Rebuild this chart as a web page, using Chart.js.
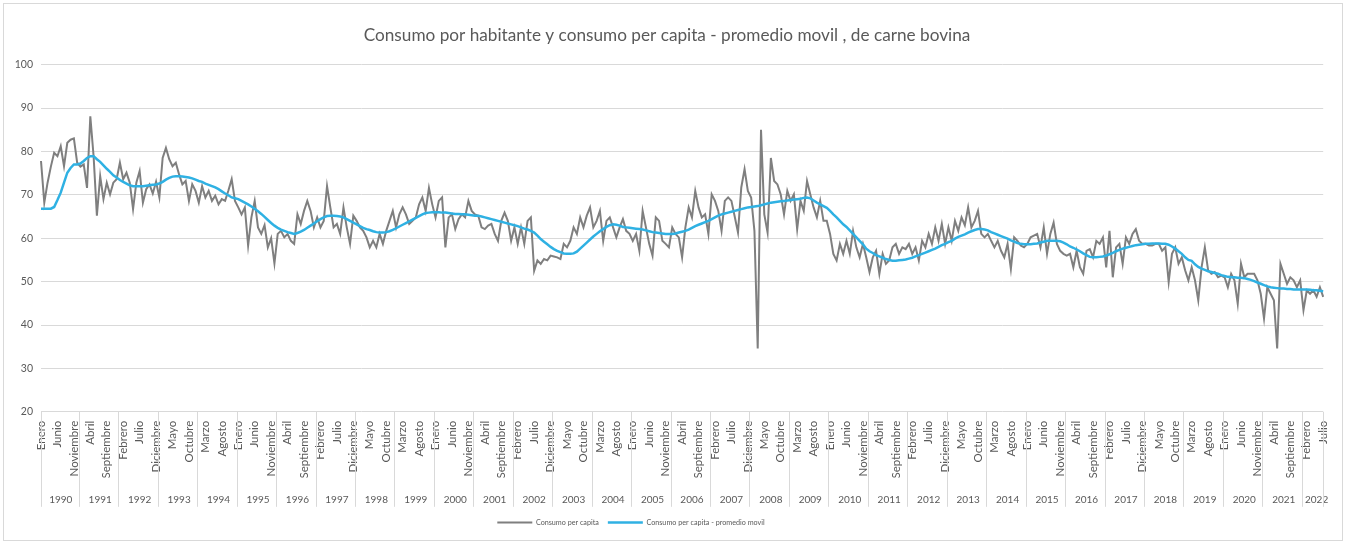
<!DOCTYPE html>
<html lang="es">
<head>
<meta charset="utf-8">
<title>Consumo de carne bovina</title>
<script src="https://cdn.jsdelivr.net/npm/chart.js@4.4.1/dist/chart.umd.min.js"></script>
<style>
  html, body { margin: 0; padding: 0; background: #fff; }
  #wrap { position: relative; width: 1346px; height: 543px; }
  #frame { position: absolute; left: 3px; top: 3px; width: 1338px; height: 536px; border: 1px solid #d9d9d9; pointer-events: none; }
</style>
</head>
<body>
<div id="wrap">
  <canvas id="chart" width="1346" height="543"></canvas>
  <div id="frame"></div>
</div>
<script>
const meses = ['Enero', 'Febrero', 'Marzo', 'Abril', 'Mayo', 'Junio', 'Julio', 'Agosto', 'Septiembre', 'Octubre', 'Noviembre', 'Diciembre'];
const anios = [1990, 1991, 1992, 1993, 1994, 1995, 1996, 1997, 1998, 1999, 2000, 2001, 2002, 2003, 2004, 2005,
               2006, 2007, 2008, 2009, 2010, 2011, 2012, 2013, 2014, 2015, 2016, 2017, 2018, 2019, 2020, 2021, 2022];
const mesesUltimoAnio = 7; // 2022: enero a julio

// Consumo per capita (kg/hab/año), mensual
const consumo = [
  77.8, 68.2, 72.8, 76.5, 79.7, 78.9, 81.2, 76.6, 82, 82.7, 83, 77.4,      // 1990
  76.5, 77, 71.6, 88.1, 78.9, 65.2, 74.3, 69, 72.8, 70.1, 72.8, 73.6,      // 1991
  77.4, 73.6, 75.1, 72.8, 66.7, 72.8, 75.5, 68.2, 71.3, 72.4, 70.3, 73,    // 1992
  69.4, 78.5, 80.8, 78.2, 76.6, 77.4, 74.7, 72.4, 73.2, 68.6, 72.4, 70.9,  // 1993
  68.2, 72, 69.4, 70.9, 68.6, 69.8, 67.8, 69, 68.6, 71, 73.6, 68.6,        // 1994
  67.1, 65.5, 67.1, 58.3, 64.8, 68.6, 62.5, 61, 63, 57.9, 60, 54.2,        // 1995
  61, 61.7, 60.2, 61, 59.4, 58.7, 65.5, 63.3, 66.3, 68.6, 66.3, 62.5,      // 1996
  64.8, 62.5, 64, 72, 67.1, 62.5, 63.3, 61, 67.1, 62.5, 58.7, 65.2,        // 1997
  64, 62.5, 61.7, 60.2, 57.9, 59.4, 57.9, 61, 58.7, 61.7, 64, 66.3,        // 1998
  62.5, 65.5, 67.1, 65.5, 63.3, 64, 64.8, 67.8, 69.4, 66.3, 71.6, 67.8,    // 1999
  64.8, 68.6, 69.4, 57.9, 64.8, 65.5, 62.1, 64.4, 65.5, 64.8, 68.6, 66.3,  // 2000
  65.5, 65.2, 62.5, 62.1, 62.9, 63.3, 61, 59.4, 64, 65.9, 64, 59.4,        // 2001
  62.5, 58.7, 62.5, 58.7, 64, 64.8, 52.5, 54.9, 54.1, 55.2, 54.9, 56,      // 2002
  55.8, 55.6, 55.2, 58.7, 57.9, 59.4, 62.5, 61, 64.8, 62.5, 65.2, 67.1,    // 2003
  62.5, 64, 66.3, 59.4, 64, 64.8, 62.5, 60.2, 62.5, 64.4, 61.7, 61,        // 2004
  59.4, 61, 57.1, 66.3, 62.5, 58.7, 56, 64.8, 64, 59.4, 58.7, 57.9,        // 2005
  62.5, 61, 60.2, 55.6, 62.5, 67.1, 64.8, 70.9, 67.1, 64.8, 65.5, 61,      // 2006
  70.1, 68.6, 66.3, 61.7, 68.6, 69.4, 68.6, 65, 61.3, 71.7, 75.9, 70.9,    // 2007
  69.4, 61.7, 34.6, 85, 65.5, 61.3, 78.5, 73.2, 72.4, 70.1, 65.5, 70.9,    // 2008
  68.6, 70.1, 62.1, 68.6, 66.3, 73.2, 70.1, 67.1, 64.8, 68.6, 64, 64,      // 2009
  61, 56.4, 54.9, 58.7, 56.4, 59.4, 56.4, 61.7, 57.9, 55.6, 58.7, 55.6,    // 2010
  52.2, 55.6, 57.1, 51.8, 56.4, 54.1, 54.9, 57.9, 58.7, 56.4, 57.9, 57.5,  // 2011
  58.7, 56.4, 57.9, 54.9, 59.4, 57.9, 61, 58.7, 62.5, 59.4, 63.3, 58.7,    // 2012
  62.5, 59.4, 64, 61.7, 64.8, 63, 67.1, 62.5, 64, 66.3, 61, 60.2,          // 2013
  61, 59.4, 57.9, 59.4, 57.1, 55.6, 58.7, 52.9, 60.2, 59.4, 58.3, 57.9,    // 2014
  58.7, 60.2, 60.6, 61, 57.9, 62.5, 56.4, 61, 63.6, 58.7, 57.1, 56.4,      // 2015
  56, 56.4, 53.3, 57.1, 53.3, 51.8, 57.1, 57.5, 55.6, 59.4, 58.7, 60.2,    // 2016
  53.3, 61.7, 51, 57.9, 58.7, 54.1, 60.2, 58.7, 61, 62.1, 59.4, 58.7,      // 2017
  58.7, 58.3, 58.3, 58.7, 58.7, 57.1, 57.9, 49.9, 56.4, 57.9, 54.1, 55.6,  // 2018
  52.6, 50.3, 53.3, 50.3, 45.7, 53.3, 57.9, 52.6, 51.8, 52.2, 51, 51.4,    // 2019
  51, 48.7, 51.8, 50.3, 44.9, 54.1, 51, 51.8, 51.8, 51.8, 50.3, 47.2,      // 2020
  41.5, 48.7, 47.2, 45.7, 34.6, 54.1, 51.8, 49.5, 51, 50.3, 48.7, 50.3,    // 2021
  43.4, 48, 47.2, 48, 46.5, 48.7, 46.5                                     // 2022
];

// Consumo per capita - promedio movil
const promedio = [
  66.8, 66.8, 66.8, 66.8, 67.2, 68.8, 70.5, 72.8, 75.1, 76.2, 77, 77,      // 1990
  77.2, 77.8, 78.5, 78.9, 78.9, 78.2, 77.6, 76.8, 76, 75.3, 74.5, 74,      // 1991
  73.4, 73, 72.6, 72.2, 72, 72, 72, 72, 72.1, 72.2, 72.3, 72.4,            // 1992
  72.6, 73, 73.5, 73.9, 74.2, 74.3, 74.3, 74.2, 74.1, 74, 73.8, 73.5,      // 1993
  73.2, 73, 72.6, 72.3, 72, 71.7, 71.3, 70.8, 70.3, 69.9, 69.4, 69.2,      // 1994
  69, 68.6, 68.2, 67.8, 67.3, 66.8, 66.2, 65.6, 64.9, 64.2, 63.5, 62.9,    // 1995
  62.4, 62, 61.7, 61.4, 61.2, 61, 61.2, 61.5, 61.9, 62.4, 62.9, 63.4,      // 1996
  63.9, 64.4, 64.8, 65.1, 65.2, 65.2, 65.1, 65, 64.8, 64.4, 64, 63.6,      // 1997
  63.2, 62.8, 62.4, 62.1, 61.9, 61.6, 61.4, 61.3, 61.3, 61.4, 61.6, 61.9,  // 1998
  62.3, 62.7, 63.1, 63.5, 63.9, 64.3, 64.7, 65.1, 65.5, 65.8, 65.9, 66,    // 1999
  66, 66, 65.9, 65.9, 65.8, 65.7, 65.6, 65.6, 65.5, 65.5, 65.4, 65.3,      // 2000
  65.2, 65.2, 65, 64.8, 64.6, 64.4, 64.2, 64, 63.8, 63.6, 63.4, 63.2,      // 2001
  63, 62.8, 62.5, 62.2, 62, 61.7, 61.3, 60.6, 59.8, 59.2, 58.6, 58,        // 2002
  57.5, 57.1, 56.8, 56.5, 56.4, 56.4, 56.5, 56.9, 57.6, 58.3, 59, 59.7,    // 2003
  60.4, 61, 61.6, 62.1, 62.6, 63, 63.2, 63.1, 62.9, 62.6, 62.5, 62.4,      // 2004
  62.3, 62.2, 62.1, 62, 61.8, 61.6, 61.4, 61.3, 61.2, 61.1, 61, 61,        // 2005
  61, 61.1, 61.3, 61.5, 61.7, 62, 62.4, 62.8, 63.1, 63.4, 63.7, 64,        // 2006
  64.4, 64.8, 65.2, 65.5, 65.7, 65.9, 66.1, 66.3, 66.5, 66.7, 66.9, 67.1,  // 2007
  67.2, 67.3, 67.4, 67.6, 67.8, 68, 68.2, 68.3, 68.4, 68.5, 68.6, 68.7,    // 2008
  68.8, 68.9, 69, 69.1, 69.3, 69.4, 69.2, 68.7, 68.2, 67.8, 67.4, 67,      // 2009
  66.3, 65.5, 64.8, 64, 63.2, 62.6, 61.8, 61, 60.2, 59.4, 58.6, 57.6,      // 2010
  57, 56.6, 56.1, 55.8, 55.5, 55.2, 55, 54.8, 54.8, 54.9, 55, 55.1,        // 2011
  55.3, 55.5, 55.8, 56.1, 56.4, 56.7, 57, 57.3, 57.6, 58, 58.4, 58.7,      // 2012
  59.1, 59.4, 59.9, 60.3, 60.6, 60.9, 61.3, 61.6, 61.9, 62.1, 62.1, 62,    // 2013
  61.8, 61.4, 61.1, 60.8, 60.5, 60.2, 59.9, 59.5, 59.2, 58.9, 58.7, 58.6,  // 2014
  58.6, 58.6, 58.7, 58.8, 59, 59.2, 59.4, 59.4, 59.4, 59.4, 59.3, 59,      // 2015
  58.6, 58.1, 57.8, 57.4, 57, 56.5, 56.1, 55.7, 55.6, 55.6, 55.7, 55.8,    // 2016
  56, 56.3, 56.6, 57, 57.3, 57.6, 57.8, 58, 58.2, 58.4, 58.5, 58.6,        // 2017
  58.7, 58.7, 58.8, 58.8, 58.8, 58.7, 58.7, 58.5, 58.1, 57.6, 57, 56.4,    // 2018
  55.6, 55, 54.8, 54, 53.4, 53, 52.7, 52.4, 52.2, 52, 51.8, 51.5,          // 2019
  51.3, 51.1, 51, 51, 50.9, 50.9, 50.8, 50.6, 50.4, 50.1, 49.8, 49.5,      // 2020
  49.2, 48.9, 48.7, 48.6, 48.5, 48.4, 48.4, 48.3, 48.3, 48.2, 48.2, 48.2,  // 2021
  48.2, 48.2, 48.1, 48, 48, 47.9, 47.8                                     // 2022
];

// etiquetas: mes y año de cada punto
const etiquetas = [];
const etiquetasAnio = [];
anios.forEach((a, i) => {
  const n = i === anios.length - 1 ? mesesUltimoAnio : 12;
  for (let m = 0; m < n; m++) {
    etiquetas.push(meses[m]);
    etiquetasAnio.push(String(a));
  }
});

const gris = '#595959';
const lineaGrid = '#d9d9d9';
Chart.defaults.font.family = 'Lato, "Noto Sans", sans-serif';
Chart.defaults.color = gris;

// separadores verticales entre años, bajo el eje
const separadoresAnio = {
  id: 'separadoresAnio',
  afterLayout(chart) {
    // la leyenda del original queda algo a la izquierda del centro
    chart.legend.left -= 36;
    chart.legend.right -= 36;
  },
  afterDraw(chart) {
    const x = chart.scales.x;
    const x2 = chart.scales.x2;
    const area = chart.chartArea;
    const medio = (x.getPixelForValue(1) - x.getPixelForValue(0)) / 2;
    const ctx = chart.ctx;
    ctx.save();
    ctx.strokeStyle = lineaGrid;
    ctx.lineWidth = 1;
    ctx.beginPath();
    for (let i = 0; i <= etiquetas.length; i += 12) {
      let px = i === 0 ? area.left : x.getPixelForValue(i) - medio;
      px = Math.round(px) + 0.5;
      ctx.moveTo(px, area.bottom);
      ctx.lineTo(px, x2.bottom - 3);
    }
    const fin = Math.round(area.right) + 0.5;
    ctx.moveTo(fin, area.bottom);
    ctx.lineTo(fin, x2.bottom - 3);
    ctx.stroke();
    ctx.restore();
  }
};

const ctx = document.getElementById('chart').getContext('2d');

const chart = new Chart(ctx, {
  type: 'line',
  data: {
    labels: etiquetas,
    datasets: [{
      label: 'Consumo per capita',
      data: consumo,
      borderColor: '#7f7f7f',
      backgroundColor: '#7f7f7f',
      borderWidth: 2,
      pointRadius: 0,
      tension: 0,
      order: 2
    }, {
      label: 'Consumo per capita - promedio movil',
      data: promedio,
      borderColor: '#2fb1e3',
      backgroundColor: '#2fb1e3',
      borderWidth: 2.5,
      pointRadius: 0,
      tension: 0,
      order: 1
    }]
  },
  options: {
    responsive: false,
    animation: false,
    layout: { padding: { top: 10, right: 20, bottom: 7, left: 8 } },
    plugins: {
      title: {
        display: true,
        text: 'Consumo por habitante y consumo per capita - promedio movil , de carne bovina',
        color: gris,
        font: { size: 17.2, weight: 'normal' },
        padding: { top: 15, bottom: 19 }
      },
      legend: {
        position: 'bottom',
        labels: {
          color: gris,
          font: { size: 7.2 },
          usePointStyle: true,
          pointStyle: 'line',
          pointStyleWidth: 35,
          padding: 9,
          sort: (a, b) => a.datasetIndex - b.datasetIndex
        }
      },
      tooltip: { enabled: false }
    },
    scales: {
      y: {
        min: 20,
        max: 100,
        ticks: { stepSize: 10, font: { size: 10.5 }, padding: 8, color: gris },
        grid: { color: lineaGrid, drawTicks: false },
        border: { display: false },
        afterFit(s) { s.width = 33; }
      },
      x: {
        weight: 0,
        grid: { display: false, drawTicks: false },
        border: { display: false },
        ticks: {
          autoSkip: false,
          minRotation: 90,
          maxRotation: 90,
          padding: 9,
          font: { size: 11.5 },
          color: gris,
          callback(value, index) { return index % 5 === 0 ? etiquetas[index] : null; }
        },
        afterFit(s) { s.height = 66; }
      },
      x2: {
        type: 'category',
        position: 'bottom',
        weight: 1,
        labels: etiquetasAnio,
        grid: { display: false, drawTicks: false },
        border: { display: false },
        ticks: {
          autoSkip: false,
          maxRotation: 0,
          minRotation: 0,
          padding: 16,
          font: { size: 10 },
          color: gris,
          callback(value, index) {
            const m = index % 12;
            if (index >= 384) return index === 388 ? etiquetasAnio[index] : null;
            return m === 6 ? etiquetasAnio[index] : null;
          }
        },
        afterFit(s) { s.height = 32; }
      }
    }
  },
  plugins: [separadoresAnio]
});
</script>
</body>
</html>
